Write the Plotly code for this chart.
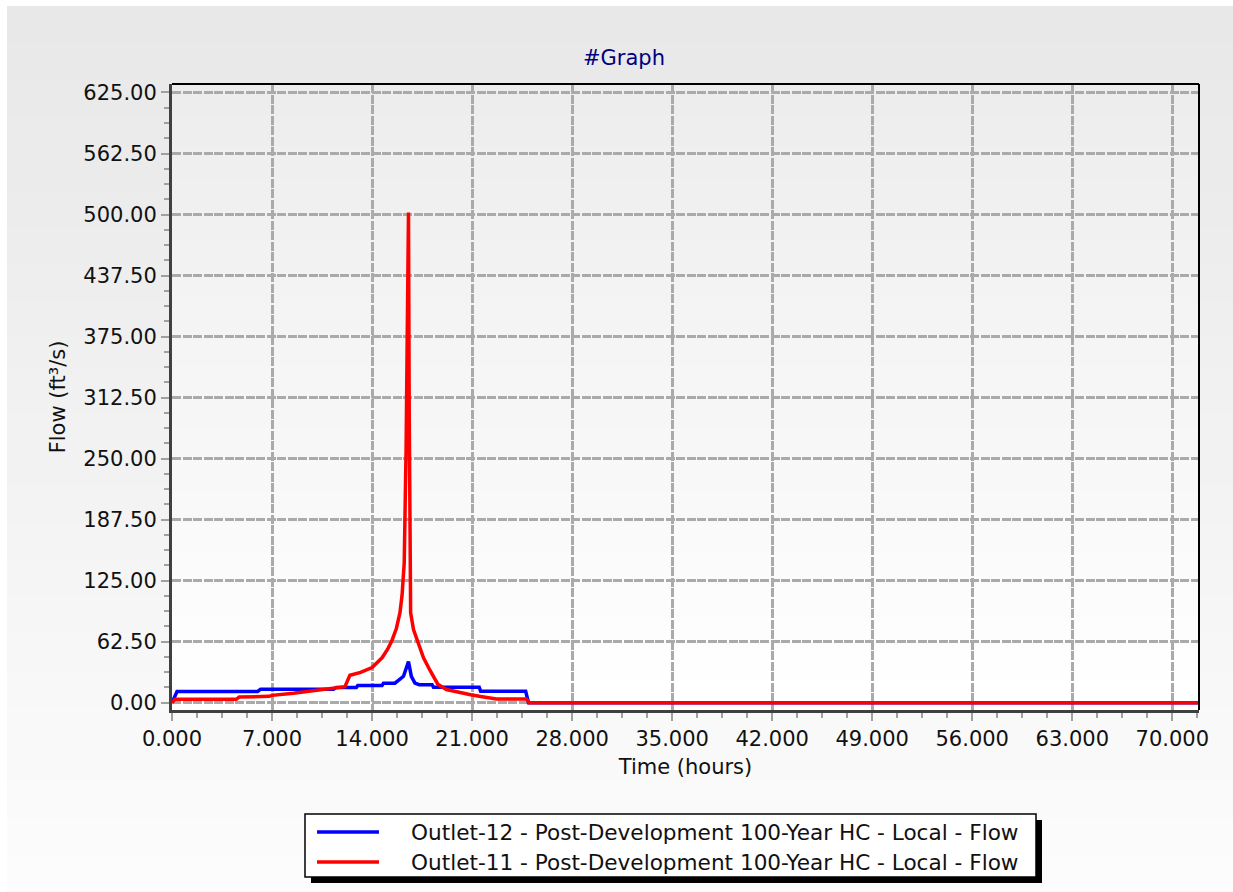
import plotly.graph_objects as go

# Outlet-12 hydrograph (hours, ft³/s)
outlet12_time = [0.0, 0.15, 0.35, 6.0, 6.2, 11.3, 11.5, 12.9, 13.0, 14.7, 14.8, 15.6,
                 15.8, 16.2, 16.55, 16.75, 17.0, 17.3, 18.2, 18.3, 21.5, 21.6, 24.75,
                 24.95, 71.9]
outlet12_flow = [0.0, 6.0, 11.5, 11.5, 13.8, 13.8, 15.6, 15.6, 17.7, 17.7, 20.0, 20.0,
                 22.5, 27.0, 42.0, 27.0, 20.0, 18.4, 18.4, 15.7, 15.7, 11.6, 11.6,
                 0.0, 0.0]

# Outlet-11 hydrograph (hours, ft³/s)
outlet11_time = [0.0, 0.2, 4.5, 4.7, 6.8, 7.0, 8.5, 9.9, 10.8, 12.1, 12.45, 13.2,
                 14.0, 14.7, 15.1, 15.4, 15.7, 15.95, 16.1, 16.25, 16.38, 16.55,
                 16.6, 16.66, 16.7, 16.9, 17.1, 17.36, 17.6, 18.06, 18.3, 18.6,
                 19.2, 20.2, 20.9, 21.6, 22.7, 24.8, 25.0, 71.9]
outlet11_flow = [0.0, 3.5, 3.5, 5.8, 6.5, 7.5, 9.6, 12.3, 14.4, 16.4, 28.0, 31.0,
                 36.0, 46.0, 55.0, 64.0, 76.0, 92.0, 110.0, 143.0, 259.0, 502.0,
                 300.0, 120.0, 92.0, 75.0, 66.0, 54.0, 46.0, 33.0, 26.0, 19.0,
                 13.5, 9.9, 8.2, 6.4, 3.8, 3.8, 0.0, 0.0]

series_names = [
    "Outlet-12 - Post-Development 100-Year HC - Local - Flow",
    "Outlet-11 - Post-Development 100-Year HC - Local - Flow",
]
series_colors = ["#0000ff", "#ff0000"]

x_ticks = [0, 7, 14, 21, 28, 35, 42, 49, 56, 63, 70]
y_ticks = [0, 62.5, 125, 187.5, 250, 312.5, 375, 437.5, 500, 562.5, 625]

W, H = 1233, 892
L, R, T, B = 172, 34, 84, 182
PW, PH = W - L - R, H - T - B
FONT = "DejaVu Sans, Verdana, sans-serif"
TXT = 21


def px(p):
    return (p - L) / PW


def py(p):
    return (H - B - p) / PH


fig = go.Figure()
fig.add_trace(go.Scatter(x=outlet12_time, y=outlet12_flow, mode="lines",
                         name=series_names[0], showlegend=False,
                         line=dict(color=series_colors[0], width=3.5)))
fig.add_trace(go.Scatter(x=outlet11_time, y=outlet11_flow, mode="lines",
                         name=series_names[1], showlegend=False,
                         line=dict(color=series_colors[1], width=3.5)))

shapes = []


def lerp_grey(c0, c1, f):
    v = round(c0 + (c1 - c0) * f)
    return f"rgb({v},{v},{v})"


# banded gradient for the outer panel
n = 24
top, bot = 6, H
for i in range(n):
    y0 = top + (bot - top) * i / n
    y1 = top + (bot - top) * (i + 1) / n
    shapes.append(dict(type="rect", xref="paper", yref="paper", layer="below",
                       x0=px(7), x1=px(W + 2), y0=py(y1 + 0.5), y1=py(y0),
                       line=dict(width=0), fillcolor=lerp_grey(232, 252, i / (n - 1))))

# banded gradient for the plotting area
n = 20
for i in range(n):
    y0 = T + PH * i / n
    y1 = T + PH * (i + 1) / n
    shapes.append(dict(type="rect", xref="paper", yref="paper", layer="below",
                       x0=0, x1=1, y0=py(y1 + 0.5), y1=py(y0),
                       line=dict(width=0), fillcolor=lerp_grey(237, 255, i / (n - 1))))

# thin frame on top and right
shapes.append(dict(type="line", xref="paper", yref="paper", x0=0, x1=1, y0=1, y1=1,
                   line=dict(color="#000000", width=2)))
shapes.append(dict(type="line", xref="paper", yref="paper", x0=1, x1=1, y0=0, y1=1,
                   line=dict(color="#000000", width=2)))

# legend box with drop shadow
lx0, lx1, ly0, ly1 = 305, 1036, 814, 877
shapes.append(dict(type="rect", xref="paper", yref="paper",
                   x0=px(lx0 + 6), x1=px(lx1 + 6), y0=py(ly1 + 6), y1=py(ly0 + 6),
                   line=dict(width=0), fillcolor="#000000"))
shapes.append(dict(type="rect", xref="paper", yref="paper",
                   x0=px(lx0), x1=px(lx1), y0=py(ly1), y1=py(ly0),
                   line=dict(color="#000000", width=1.5), fillcolor="#ffffff"))

annotations = []
for k, (name, color) in enumerate(zip(series_names, series_colors)):
    yy = 832 + 30 * k
    shapes.append(dict(type="line", xref="paper", yref="paper",
                       x0=px(317), x1=px(379), y0=py(yy), y1=py(yy),
                       line=dict(color=color, width=3.5)))
    annotations.append(dict(text=name, xref="paper", yref="paper",
                            x=px(409), y=py(yy), xanchor="left", yanchor="middle",
                            showarrow=False,
                            font=dict(family=FONT, size=21.6, color="#111111")))

axis_common = dict(
    showgrid=True, gridcolor="#aaaaaa", gridwidth=3, griddash="9px,1.5px",
    zeroline=False, showline=True, linecolor="#404040", linewidth=3,
    ticks="outside", ticklen=8, tickwidth=2, tickcolor="#a0a0a0",
    tickfont=dict(family=FONT, size=TXT, color="#111111"),
)

fig.update_layout(
    width=W, height=H,
    margin=dict(l=L, r=R, t=T, b=B),
    paper_bgcolor="#ffffff", plot_bgcolor="rgba(0,0,0,0)",
    title=dict(text="#Graph", x=624 / W, xref="container", xanchor="center",
               y=1 - 58 / H, yref="container", yanchor="middle",
               font=dict(family=FONT, size=TXT, color="#000080")),
    xaxis=dict(range=[0, 71.87], tickvals=x_ticks, tickformat=".3f",
               title=dict(text="Time (hours)", standoff=10,
                          font=dict(family=FONT, size=TXT, color="#111111")),
               minor=dict(dtick=1.75, tick0=0, ticks="outside", ticklen=5,
                          tickwidth=2, tickcolor="#a0a0a0", showgrid=False),
               **axis_common),
    yaxis=dict(range=[-7.5, 633.7], tickvals=y_ticks, tickformat=".2f",
               title=dict(text="Flow (ft³/s)", standoff=12,
                          font=dict(family=FONT, size=TXT, color="#111111")),
               minor=dict(dtick=15.625, tick0=0, ticks="outside", ticklen=5,
                          tickwidth=2, tickcolor="#a0a0a0", showgrid=False),
               **axis_common),
    shapes=shapes,
    annotations=annotations,
    showlegend=False,
)

fig.write_html("out.html")
